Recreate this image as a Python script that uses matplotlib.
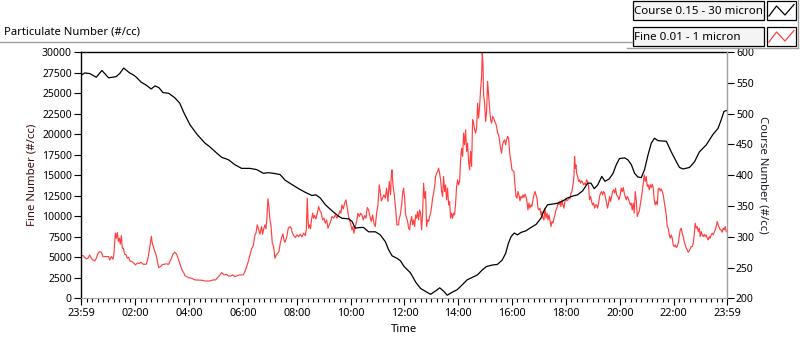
import matplotlib
matplotlib.use("Agg")
import matplotlib.pyplot as plt
from matplotlib.lines import Line2D
from matplotlib.patches import Rectangle

plt.rcParams['font.family'] = ['Noto Sans', 'DejaVu Sans']

TITLE = "Particulate Number (#/cc)"
SERIES_NAMES = ["Course 0.15 - 30 micron", "Fine 0.01 - 1 micron"]
X_LABEL = "Time"
FINE_LABEL = "Fine Number (#/cc)"
COURSE_LABEL = "Course Number (#/cc)"
X_TICKS = [-1 / 60, 2, 4, 6, 8, 10, 12, 14, 16, 18, 20, 22, 24 - 1 / 60]
X_TICK_LABELS = ["23:59", "02:00", "04:00", "06:00", "08:00", "10:00", "12:00",
                 "14:00", "16:00", "18:00", "20:00", "22:00", "23:59"]
FINE_TICKS = list(range(0, 30001, 2500))
COURSE_TICKS = list(range(200, 601, 50))

# hours since midnight, Course number (#/cc)
COURSE_TIME = [-0.017, 0.12, 0.31, 0.55, 0.76, 1.01, 1.29, 1.42, 1.57, 1.79, 1.92, 2.04,
               2.22, 2.41, 2.59, 2.74, 2.88, 3.03, 3.24, 3.46, 3.65, 3.81, 4.03, 4.28,
               4.59, 4.77, 5.02, 5.21, 5.46, 5.70, 5.95, 6.26, 6.51, 6.76, 6.94, 7.13,
               7.38, 7.56, 7.81, 8.07, 8.32, 8.56, 8.71, 8.87, 9.06, 9.31, 9.56, 9.68,
               9.93, 10.05, 10.17, 10.36, 10.48, 10.67, 10.92, 11.10, 11.29, 11.41, 11.54,
               11.72, 11.85, 11.98, 12.23, 12.42, 12.60, 12.79, 12.97, 13.16, 13.31, 13.47,
               13.59, 13.78, 13.96, 14.15, 14.33, 14.52, 14.71, 14.89, 15.04, 15.26, 15.45,
               15.63, 15.76, 15.86, 15.96, 16.08, 16.20, 16.33, 16.51, 16.70, 16.89, 17.07,
               17.20, 17.32, 17.51, 17.69, 17.88, 18.06, 18.25, 18.43, 18.62, 18.81, 18.93,
               19.05, 19.18, 19.33, 19.45, 19.61, 19.75, 19.87, 19.99, 20.18, 20.30, 20.43,
               20.55, 20.67, 20.80, 20.92, 21.05, 21.17, 21.29, 21.42, 21.73, 21.91, 22.10,
               22.22, 22.35, 22.59, 22.78, 22.96, 23.21, 23.46, 23.65, 23.77, 23.87, 23.97]
COURSE_VALUES = [562, 566, 565, 559, 570, 558, 560, 565, 574, 566, 563, 559,
                 551, 546, 540, 545, 542, 534, 533, 526, 517, 501, 482, 467,
                 452, 446, 436, 429, 425, 417, 411, 411, 409, 403, 404, 403,
                 401, 392, 385, 378, 372, 367, 368, 363, 352, 342, 333, 330,
                 329, 325, 314, 315, 315, 308, 308, 303, 292, 279, 269,
                 265, 261, 252, 241, 226, 216, 211, 206.5, 212, 217, 211,
                 205, 210, 214, 222, 230, 234, 238, 246, 251.5, 254, 255,
                 262, 273, 289, 300, 306, 303, 307, 309.5, 315, 320, 330,
                 344, 352, 353, 354.5, 358, 363, 366, 368, 374.5, 387, 387,
                 378, 384, 398, 390, 394, 403, 417, 427, 428, 425, 417,
                 403, 397, 396, 409, 433, 452, 460, 456, 455, 438, 422,
                 412.5, 410, 412.5, 422, 438, 449, 466, 476, 490, 503.5, 505]

# hours since midnight, Fine number (#/cc)
FINE_TIME = [
    -0.017, 0.058, 0.12, 0.18, 0.243, 0.305, 0.367, 0.429, 0.491, 0.553, 0.615, 0.677,
    0.739, 0.80, 0.924, 1.011, 1.048, 1.11, 1.172, 1.209, 1.259, 1.296, 1.333, 1.37,
    1.407, 1.444, 1.481, 1.519, 1.556, 1.605, 1.667, 1.704, 1.754, 1.803, 1.878, 1.952,
    2.001, 2.076, 2.162, 2.224, 2.286, 2.41, 2.472, 2.534, 2.596, 2.633, 2.695, 2.744,
    2.781, 2.818, 2.868, 2.942, 2.992, 3.066, 3.153, 3.239, 3.314, 3.40, 3.462, 3.537,
    3.611, 3.685, 3.735, 3.809,
    3.846, 3.97, 4.094, 4.217, 4.465, 4.589, 4.775, 4.898, 4.985, 5.059, 5.146, 5.208,
    5.27, 5.332, 5.393, 5.455, 5.554, 5.616, 5.703, 5.79, 5.864, 6.013, 6.074, 6.136,
    6.198, 6.26, 6.322, 6.384, 6.446, 6.483, 6.532, 6.57, 6.631, 6.693, 6.73, 6.78,
    6.817, 6.854, 6.891, 6.929, 6.966, 7.003, 7.04, 7.09, 7.139, 7.189, 7.238, 7.288,
    7.337, 7.387, 7.436, 7.486, 7.523, 7.56, 7.622, 7.684, 7.746, 7.808,
    7.821, 7.883, 7.945, 8.007, 8.069, 8.13, 8.192, 8.254, 8.316, 8.353, 8.39, 8.415,
    8.44, 8.477, 8.514, 8.539, 8.589, 8.626, 8.663, 8.712, 8.762, 8.811, 8.861, 8.91,
    8.96, 9.01, 9.059, 9.109, 9.158, 9.208, 9.257, 9.307, 9.369, 9.43, 9.492, 9.554,
    9.604, 9.641, 9.678, 9.728, 9.777, 9.827, 9.876, 9.926, 9.975, 10.012, 10.049, 10.087,
    10.124, 10.173, 10.223, 10.272, 10.322, 10.371, 10.421, 10.47, 10.52, 10.569, 10.619, 10.668,
    10.718, 10.767, 10.817, 10.866, 10.916, 10.965, 11.015, 11.064, 11.102, 11.139, 11.188, 11.238,
    11.287, 11.337, 11.386, 11.436, 11.485, 11.51, 11.535, 11.572, 11.622, 11.671, 11.721, 11.783,
    11.796, 11.846, 11.895, 11.932, 11.969, 12.006, 12.044, 12.081, 12.118, 12.155, 12.192, 12.229,
    12.266, 12.304, 12.341, 12.378, 12.415, 12.452, 12.489, 12.526, 12.564, 12.601, 12.638, 12.675,
    12.712, 12.749, 12.786, 12.823, 12.861, 12.898, 12.935, 12.972, 13.009, 13.046, 13.083, 13.12,
    13.158, 13.195, 13.232, 13.269, 13.306, 13.343, 13.38, 13.418, 13.455, 13.492, 13.529, 13.566,
    13.603, 13.64, 13.678, 13.715, 13.752, 13.789, 13.826, 13.863, 13.9, 13.938, 13.975, 14.012,
    14.049, 14.086, 14.123, 14.16, 14.198, 14.235, 14.272, 14.309, 14.346, 14.383, 14.42, 14.458,
    14.495, 14.532, 14.569, 14.606, 14.643, 14.68, 14.718, 14.755, 14.792, 14.829, 14.866, 14.891,
    14.916, 14.94, 14.978, 15.015, 15.052, 15.089, 15.126, 15.163, 15.2, 15.238, 15.275, 15.312,
    15.349, 15.386, 15.423, 15.46, 15.498, 15.535, 15.572, 15.609, 15.646, 15.683, 15.72, 15.758,
    15.795, 15.832, 15.869, 15.906, 15.943,
    15.957, 15.994, 16.031, 16.068, 16.105, 16.142, 16.18, 16.217, 16.254, 16.291, 16.328, 16.365,
    16.402, 16.44, 16.477, 16.514, 16.551, 16.588, 16.625, 16.662, 16.7, 16.737, 16.774, 16.811,
    16.848, 16.885, 16.922, 16.96, 16.997, 17.034, 17.071, 17.108, 17.145, 17.182, 17.22, 17.257,
    17.294, 17.331, 17.368, 17.405, 17.442, 17.48, 17.517, 17.554, 17.591, 17.628, 17.665, 17.702,
    17.74, 17.777, 17.814, 17.851, 17.888, 17.925, 17.962, 18.0, 18.037, 18.074, 18.111, 18.148,
    18.185, 18.222, 18.26, 18.297, 18.321, 18.346, 18.371, 18.396, 18.433, 18.47, 18.507, 18.544,
    18.581, 18.618, 18.656, 18.693, 18.73, 18.767, 18.804, 18.841, 18.878, 18.916, 18.953, 18.99,
    19.027, 19.064, 19.101, 19.138, 19.176, 19.213, 19.25, 19.287, 19.324, 19.361, 19.398, 19.436,
    19.473, 19.51, 19.547, 19.584, 19.621, 19.658, 19.695, 19.733, 19.77, 19.807, 19.844, 19.881,
    19.931,
    19.968, 20.017, 20.055, 20.092, 20.129, 20.166, 20.203, 20.24, 20.277, 20.314, 20.352, 20.389,
    20.426, 20.463, 20.5, 20.537, 20.574, 20.612, 20.649, 20.686, 20.723, 20.76, 20.797, 20.834,
    20.872, 20.909, 20.946, 20.983, 21.02, 21.057, 21.094, 21.132, 21.169, 21.206, 21.243, 21.28,
    21.317, 21.354, 21.392, 21.429, 21.466, 21.503, 21.54, 21.577, 21.614, 21.652, 21.689, 21.726,
    21.763, 21.8, 21.837, 21.874, 21.912, 21.949, 21.986, 22.023, 22.06, 22.097, 22.134, 22.172,
    22.209, 22.246, 22.283, 22.32, 22.357, 22.394, 22.432, 22.469, 22.506, 22.543, 22.58, 22.617,
    22.654, 22.692, 22.729, 22.766, 22.803, 22.84, 22.877, 22.914, 22.952, 22.989, 23.026, 23.063,
    23.1, 23.137, 23.174, 23.212, 23.249, 23.286, 23.323, 23.36, 23.397, 23.434, 23.472, 23.509,
    23.546, 23.583, 23.62, 23.657, 23.694, 23.732, 23.769, 23.806, 23.843, 23.88, 23.917, 23.954]
FINE_VALUES = [
    5200, 5200, 4960, 4800, 4880, 5280, 4880, 4670, 4550, 4880, 5490, 5690,
    5610, 5080, 5080, 5080, 4670, 5080, 4760, 5490, 7930, 7320, 8010, 6910,
    7320, 6590, 7640, 6100, 6100, 5370, 5280, 4880, 5000, 4550, 4470, 4270,
    4070, 4270, 4270, 4390, 4150, 4150, 4880, 6100, 7560, 6710, 6020, 5490,
    5200, 4550, 3740, 3860, 4070, 4150, 4190, 4150, 4670, 5370, 5610, 5370,
    4670, 3980, 3460, 3050,
    2760, 2520, 2440, 2240, 2200, 2110, 2110, 2240, 2240, 2520, 2850, 3130,
    2930, 2850, 2930, 2720, 2720, 2850, 2640, 2760, 2850, 2850, 3250, 3860,
    4470, 5280, 6020, 6420, 7720, 7930, 8940, 8540, 7800, 8740, 7800, 8540,
    8940, 8460, 9760, 12110, 11180, 9550, 8940, 6710, 6300, 4880, 5280, 5490,
    5690, 6710, 7400, 7850, 7110, 6830, 7400, 8540, 8740, 8460,
    8130, 7640, 7400, 7720, 7520, 7800, 7480, 7930, 7640, 8330, 12200, 9760,
    8540, 8940, 8460, 9350, 10370, 9760, 10080, 9670, 10370, 11180, 10650, 10370,
    9550, 9760, 9150, 9550, 8540, 8940, 9350, 9960, 9760, 10160, 9760, 10160,
    10650, 10370, 11380, 10890, 11590, 11990, 10980, 9960, 9350, 8940, 8330, 8740,
    7930, 8740, 9350, 10370, 9960, 10370, 10160, 9550, 10080, 9760, 11060, 10770,
    9960, 9350, 10160, 9150, 8740, 10370, 11380, 13820, 13010, 11870, 12200, 12600,
    12200, 13410, 11790, 14230, 12600, 14840, 15650, 13820, 12600, 10980, 8940, 8940,
    9550, 10160, 11380, 12800, 13410, 12200, 10160, 9760, 9350, 8540, 8330, 9350,
    9960, 8940, 9550, 8740, 10160, 9760, 10570, 9550, 10770, 10370, 8330, 10370,
    14020, 12200, 13010, 8740, 9550, 9350, 9960, 10370, 11180, 12200, 12800, 13620,
    14840, 15240, 15450, 15850, 15240, 14430, 13010, 12400, 14840, 13010, 13820, 11990,
    13410, 11380, 11790, 9760, 10370, 9760, 10370, 10160, 11590, 13620, 14430, 13820,
    14230, 16870, 18290, 17280, 20120, 18700, 20530, 17890, 18900, 16670, 15650, 17890,
    16060, 21750, 21340, 20530, 20120, 20730, 23780, 21950, 23370, 25410, 27030, 29880,
    28660, 24800, 23780, 21540, 22760, 26420, 24800, 23170, 21750, 21340, 22150, 21950,
    21540, 21340, 20930, 20120, 19920, 19110, 18290, 17680, 18700, 19110, 19310, 18700,
    19310, 19720, 19510, 17890, 16870,
    16670, 15650, 15530, 15450, 13820, 12400, 12200, 13010, 12600, 11870, 12400, 12200,
    12600, 12280, 12680, 12400, 11790, 10770, 11590, 10980, 11380, 11180, 11990, 12600,
    13010, 12600, 12200, 10980, 10770, 10980, 10160, 10570, 9760, 9550, 10980, 9760,
    10370, 9550, 10160, 9550, 8740, 9350, 9150, 9760, 10160, 10770, 10980, 11590,
    11380, 11790, 11180, 11990, 11380, 10980, 11790, 12200, 11870, 11990, 12280, 12110,
    12800, 13010, 13820, 14840, 17280, 15850, 16260, 15240, 14840, 14230, 14430, 14020,
    14310, 14150, 13820, 14020, 13820, 14430, 14230, 13620, 11990, 12400, 11790, 11380,
    11590, 10980, 11380, 11380, 10980, 11590, 12400, 12800, 13010, 12600, 13010, 12800,
    12200, 11590, 10980, 11590, 12400, 11790, 12400, 13010, 13210, 12800, 13410, 12600,
    12400,
    11990, 12600, 13410, 13010, 13500, 12800, 12400, 11990, 12400, 12200, 11790, 11380,
    11590, 10770, 11590, 10370, 13010, 11990, 9960, 10370, 10570, 11380, 12200, 13010,
    14020, 15040, 14230, 14840, 13620, 13820, 13210, 13820, 13500, 13900, 13410, 11990,
    11380, 11790, 11380, 13330, 13410, 13090, 13330, 13010, 12600, 11790, 10980, 10160,
    8740, 8540, 7720, 7320, 7720, 7320, 6500, 6300, 6500, 6180, 6300, 6710,
    7520, 8330, 8540, 7930, 7520, 6910, 6500, 6100, 5890, 5610, 5770, 6020,
    6300, 6300, 6710, 7720, 9150, 8540, 8740, 8130, 8540, 7520, 8130, 7720,
    7520, 7800, 7520, 7720, 7320, 7110, 7520, 7320, 7720, 7930, 7720, 8050,
    8330, 8740, 9350, 8940, 8620, 8330, 8330, 8050, 8540, 8330, 8740, 8130]

W, H = 800, 342
FONT = 7.5
LABEL_FONT = 8.2
LEGEND_FONT = 8.3
GRAY = '#a0a0a0'


def fx(x):
    return x / W


def fy(y):
    return 1 - y / H


fig = plt.figure(figsize=(W / 100, H / 100), dpi=100)
fig.patch.set_facecolor('white')

ax = fig.add_axes([fx(81), fy(298.3), (727 - 81) / W, (298.3 - 52) / H])
ax.plot(FINE_TIME, FINE_VALUES, color='#ff4040', lw=0.85)
ax2 = ax.twinx()
ax2.plot(COURSE_TIME, COURSE_VALUES, color='black', lw=0.9)

ax.set_xlim(X_TICKS[0], X_TICKS[-1])
ax.set_ylim(FINE_TICKS[0], FINE_TICKS[-1])
ax2.set_ylim(COURSE_TICKS[0], COURSE_TICKS[-1])

ax.set_xticks(X_TICKS)
ax.set_xticklabels(X_TICK_LABELS)
ax.set_xticks([i * 0.2 for i in range(120)], minor=True)
ax.set_yticks(FINE_TICKS)
ax.set_yticklabels([str(v) for v in FINE_TICKS])
ax2.set_yticks(COURSE_TICKS)
ax2.set_yticklabels([str(v) for v in COURSE_TICKS])

ax.tick_params(axis='x', which='major', direction='out', length=5, width=0.8,
               pad=2, labelsize=7.8, color='black')
ax.tick_params(axis='x', which='minor', direction='out', length=3, width=0.8, color='black')
ax.tick_params(axis='y', direction='out', length=5, width=0.8, pad=1.5,
               labelsize=FONT, color='black')
ax2.tick_params(axis='y', direction='out', length=5, width=0.8, pad=1.5,
                labelsize=FONT, color='black')

for s in ['left', 'top']:
    ax.spines[s].set_color('black')
    ax.spines[s].set_linewidth(1)
ax.spines['bottom'].set_color(GRAY)
ax.spines['right'].set_visible(False)
for s in ['left', 'top', 'bottom']:
    ax2.spines[s].set_visible(False)
ax2.spines['right'].set_color(GRAY)
ax2.spines['right'].set_linewidth(1)

ax.set_ylabel(FINE_LABEL, fontsize=LABEL_FONT, color='#3a0c0c', ha='center', va='center')
ax.yaxis.set_label_coords((32.5 - 81) / 646, 0.5)
ax2.set_ylabel(COURSE_LABEL, fontsize=LABEL_FONT, rotation=-90, color='#1a1a2a',
               ha='center', va='center')
ax2.yaxis.set_label_coords((763 - 81) / 646, 0.5)
ax.set_xlabel(X_LABEL, fontsize=LABEL_FONT, va='center')
ax.xaxis.set_label_coords(0.5, (298.3 - 330) / 246.3)

fig.text(fx(4), fy(32), TITLE, ha='left', va='center', fontsize=8.1)

# panel frame lines
fig.add_artist(Line2D([fx(0), fx(632)], [fy(42), fy(42)], color=GRAY, lw=1))
fig.add_artist(Line2D([fx(627), fx(798)], [fy(48), fy(48)], color=GRAY, lw=1))
fig.add_artist(Line2D([fx(797.5), fx(797.5)], [fy(0), fy(48)], color=GRAY, lw=1))

# legend
rows = [(1, SERIES_NAMES[0], 'black'), (27, SERIES_NAMES[1], '#ff4040')]
for top, name, col in rows:
    fig.add_artist(Rectangle((fx(632.5), fy(top + 19)), (764 - 632.5) / W, 19 / H,
                             transform=fig.transFigure, facecolor='#f4f4f4',
                             edgecolor='black', lw=0.9))
    fig.add_artist(Rectangle((fx(766.5), fy(top + 19)), (796 - 766.5) / W, 19 / H,
                             transform=fig.transFigure, facecolor='white',
                             edgecolor='black', lw=0.9))
    fig.text(fx(634.5), fy(top + 10), name, ha='left', va='center', fontsize=LEGEND_FONT)
    zx = [769, 776.5, 785, 794]
    zy = [top + 15, top + 5, top + 14, top + 3.5]
    fig.add_artist(Line2D([fx(v) for v in zx], [fy(v) for v in zy], color=col, lw=0.9))

fig.savefig('out.png', dpi=100)
